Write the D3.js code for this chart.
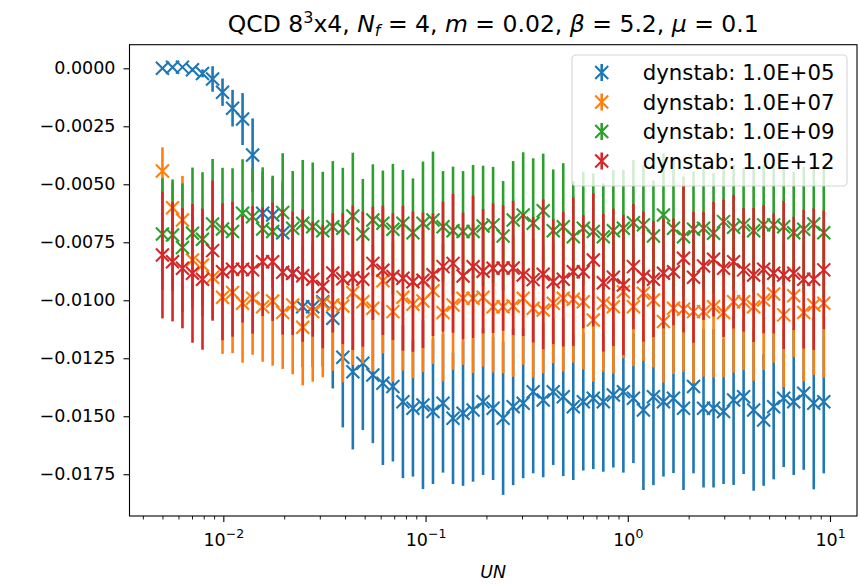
<!DOCTYPE html>
<html>
<head>
<meta charset="utf-8">
<script src="https://cdn.jsdelivr.net/npm/d3@7"></script>
<style>
  html, body { margin: 0; padding: 0; background: #fff; }
  svg { display: block; font-family: "DejaVu Sans", sans-serif; }
</style>
</head>
<body>
<svg id="chart" width="859" height="584"></svg>
<script>
// UN values (log-spaced sweep)
const unValues = [
  0.00500, 0.00561, 0.00628, 0.00704, 0.00789, 0.00885, 0.00991, 0.01111, 0.01245, 0.01396,
  0.01565, 0.01754, 0.01966, 0.02203, 0.02470, 0.02768, 0.03103, 0.03478, 0.03898, 0.04369,
  0.04897, 0.05489, 0.06152, 0.06896, 0.07729, 0.08663, 0.09711, 0.10884, 0.12199, 0.13674,
  0.15326, 0.17178, 0.19254, 0.21581, 0.24189, 0.27113, 0.30389, 0.34062, 0.38178, 0.42792,
  0.47964, 0.53760, 0.60257, 0.67539, 0.75702, 0.84850, 0.95120, 1.0662, 1.1950, 1.3394,
  1.5013, 1.6827, 1.8861, 2.1140, 2.3695, 2.6558, 2.9767, 3.3365, 3.7397, 4.1916,
  4.6981, 5.2659, 5.9023, 6.6155, 7.4150, 8.3110, 9.3153
];

// dynstab = 1.0E+05
const blueMean = [
  0.00000, 0.00004, 0.00005, -0.00006, -0.00022, -0.00046, -0.00103, -0.00172, -0.00219, -0.00374,
  -0.00625, -0.00632, -0.00709, -0.00884, -0.01028, -0.01028, -0.01006, -0.01078, -0.01246, -0.01308,
  -0.01272, -0.01322, -0.01358, -0.01372, -0.01437, -0.01466, -0.01451, -0.01480, -0.01444, -0.01509,
  -0.01487, -0.01473, -0.01437, -0.01466, -0.01509, -0.01459, -0.01444, -0.01394, -0.01430, -0.01394,
  -0.01416, -0.01459, -0.01437, -0.01422, -0.01437, -0.01408, -0.01394, -0.01422, -0.01473, -0.01416,
  -0.01437, -0.01422, -0.01466, -0.01372, -0.01466, -0.01466, -0.01480, -0.01430, -0.01416, -0.01473,
  -0.01516, -0.01459, -0.01422, -0.01437, -0.01401, -0.01444, -0.01437
];
const blueErr = [
  0.00002, 0.00003, 0.00004, 0.00008, 0.00017, 0.00055, 0.00059, 0.00079, 0.00112, 0.00158,
  0.00180, 0.00160, 0.00220, 0.00240, 0.00260, 0.00260, 0.00280, 0.00302, 0.00302, 0.00335,
  0.00287, 0.00294, 0.00352, 0.00323, 0.00330, 0.00294, 0.00363, 0.00312, 0.00299, 0.00283,
  0.00313, 0.00309, 0.00316, 0.00309, 0.00330, 0.00338, 0.00323, 0.00352, 0.00333, 0.00316,
  0.00342, 0.00316, 0.00297, 0.00306, 0.00302, 0.00313, 0.00349, 0.00280, 0.00345, 0.00381,
  0.00323, 0.00323, 0.00352, 0.00374, 0.00341, 0.00341, 0.00312, 0.00366, 0.00333, 0.00348,
  0.00284, 0.00313, 0.00297, 0.00316, 0.00330, 0.00371, 0.00309
];

// dynstab = 1.0E+07
const orangeMean = [
  -0.00443, -0.00601, -0.00654, -0.00826, -0.00848, -0.00901, -0.00987, -0.00967, -0.01013, -0.00991,
  -0.01028, -0.01003, -0.01053, -0.01020, -0.01116, -0.01049, -0.01013, -0.01020, -0.01025, -0.00967,
  -0.01006, -0.01034, -0.00916, -0.01049, -0.00987, -0.01017, -0.01003, -0.00959, -0.01053, -0.01020,
  -0.00991, -0.00991, -0.00987, -0.01028, -0.01028, -0.01025, -0.00991, -0.01034, -0.01042, -0.01013,
  -0.00991, -0.00996, -0.01006, -0.01085, -0.01013, -0.01028, -0.00963, -0.01028, -0.00970, -0.00999,
  -0.01092, -0.01034, -0.01039, -0.01049, -0.01049, -0.01028, -0.01053, -0.01006, -0.01006, -0.01028,
  -0.00999, -0.00973, -0.01063, -0.00981, -0.01053, -0.01020, -0.01013
];
const orangeErr = [
  0.00102, 0.00110, 0.00190, 0.00210, 0.00220, 0.00180, 0.00244, 0.00261, 0.00256, 0.00244,
  0.00237, 0.00279, 0.00243, 0.00299, 0.00251, 0.00302, 0.00319, 0.00284, 0.00329, 0.00312,
  0.00266, 0.00273, 0.00313, 0.00302, 0.00316, 0.00319, 0.00307, 0.00316, 0.00297, 0.00280,
  0.00287, 0.00323, 0.00299, 0.00283, 0.00287, 0.00305, 0.00287, 0.00299, 0.00273, 0.00259,
  0.00316, 0.00273, 0.00292, 0.00266, 0.00295, 0.00287, 0.00287, 0.00256, 0.00292, 0.00290,
  0.00263, 0.00284, 0.00269, 0.00309, 0.00280, 0.00305, 0.00279, 0.00306, 0.00295, 0.00319,
  0.00302, 0.00296, 0.00312, 0.00264, 0.00297, 0.00302, 0.00320
];

// dynstab = 1.0E+09
const greenMean = [
  -0.00714, -0.00719, -0.00773, -0.00711, -0.00737, -0.00671, -0.00693, -0.00704, -0.00625, -0.00640,
  -0.00693, -0.00704, -0.00622, -0.00690, -0.00668, -0.00683, -0.00700, -0.00683, -0.00690, -0.00637,
  -0.00714, -0.00654, -0.00668, -0.00694, -0.00668, -0.00709, -0.00668, -0.00654, -0.00683, -0.00700,
  -0.00704, -0.00704, -0.00680, -0.00675, -0.00723, -0.00654, -0.00632, -0.00668, -0.00614, -0.00700,
  -0.00683, -0.00726, -0.00690, -0.00704, -0.00726, -0.00700, -0.00690, -0.00666, -0.00675, -0.00723,
  -0.00632, -0.00690, -0.00726, -0.00694, -0.00690, -0.00711, -0.00661, -0.00685, -0.00675, -0.00700,
  -0.00675, -0.00675, -0.00683, -0.00709, -0.00694, -0.00671, -0.00709
];
const greenErr = [
  0.00240, 0.00240, 0.00277, 0.00283, 0.00289, 0.00280, 0.00264, 0.00273, 0.00233, 0.00208,
  0.00266, 0.00241, 0.00256, 0.00247, 0.00273, 0.00277, 0.00254, 0.00283, 0.00261, 0.00273,
  0.00237, 0.00240, 0.00227, 0.00282, 0.00230, 0.00234, 0.00266, 0.00295, 0.00240, 0.00276,
  0.00261, 0.00287, 0.00260, 0.00250, 0.00237, 0.00254, 0.00270, 0.00280, 0.00246, 0.00264,
  0.00274, 0.00240, 0.00244, 0.00251, 0.00230, 0.00261, 0.00251, 0.00270, 0.00259, 0.00240,
  0.00266, 0.00300, 0.00259, 0.00249, 0.00266, 0.00259, 0.00237, 0.00269, 0.00244, 0.00269,
  0.00259, 0.00266, 0.00251, 0.00263, 0.00270, 0.00254, 0.00284
];

// dynstab = 1.0E+12
const redMean = [
  -0.00805, -0.00834, -0.00862, -0.00884, -0.00909, -0.00786, -0.00877, -0.00866, -0.00866, -0.00869,
  -0.00834, -0.00834, -0.00879, -0.00884, -0.00894, -0.00909, -0.00941, -0.00882, -0.00907, -0.00903,
  -0.00909, -0.00841, -0.00871, -0.00898, -0.00905, -0.00920, -0.00914, -0.00890, -0.00855, -0.00841,
  -0.00895, -0.00856, -0.00875, -0.00862, -0.00861, -0.00861, -0.00891, -0.00911, -0.00888, -0.00920,
  -0.00909, -0.00877, -0.00877, -0.00826, -0.00924, -0.00901, -0.00934, -0.00855, -0.00898, -0.00909,
  -0.00884, -0.00877, -0.00819, -0.00901, -0.00852, -0.00823, -0.00862, -0.00834, -0.00869, -0.00891,
  -0.00866, -0.00884, -0.00891, -0.00884, -0.00909, -0.00909, -0.00869
];
const redErr = [
  0.00273, 0.00257, 0.00259, 0.00299, 0.00304, 0.00302, 0.00295, 0.00291, 0.00230, 0.00275,
  0.00234, 0.00255, 0.00269, 0.00266, 0.00285, 0.00248, 0.00266, 0.00257, 0.00282, 0.00311,
  0.00291, 0.00244, 0.00279, 0.00273, 0.00312, 0.00302, 0.00292, 0.00264, 0.00280, 0.00299,
  0.00273, 0.00307, 0.00268, 0.00279, 0.00270, 0.00289, 0.00263, 0.00271, 0.00323, 0.00269,
  0.00290, 0.00320, 0.00244, 0.00287, 0.00297, 0.00296, 0.00302, 0.00270, 0.00280, 0.00250,
  0.00237, 0.00230, 0.00319, 0.00282, 0.00233, 0.00247, 0.00296, 0.00288, 0.00266, 0.00289,
  0.00276, 0.00259, 0.00319, 0.00244, 0.00299, 0.00305, 0.00256
];

const seriesLabels = ["dynstab: 1.0E+05", "dynstab: 1.0E+07", "dynstab: 1.0E+09", "dynstab: 1.0E+12"];
const seriesColors = ["#1f77b4", "#ff7f0e", "#2ca02c", "#d62728"];
const yTickValues = [0, -0.0025, -0.005, -0.0075, -0.01, -0.0125, -0.015, -0.0175];
const xMajorTicks = [0.01, 0.1, 1, 10];
const xMajorExponents = ["\u22122", "\u22121", "0", "1"];

const series = [
  { mean: blueMean, err: blueErr },
  { mean: orangeMean, err: orangeErr },
  { mean: greenMean, err: greenErr },
  { mean: redMean, err: redErr }
].map((s, i) => ({
  label: seriesLabels[i],
  color: seriesColors[i],
  points: unValues.map((u, k) => ({ x: u, y: s.mean[k], e: s.err[k] }))
}));

// ---- layout ----
const plot = { left: 129.5, right: 857, top: 44.7, bottom: 516 };
const svg = d3.select("#chart");

const x = d3.scaleLog().domain([0.003436, 13.6]).range([plot.left, plot.right]);
const y = d3.scaleLinear().domain([-0.01930, 0.001017]).range([plot.bottom, plot.top]);

const tickFont = 17.5;
const fmt = d3.format(".4f");
const minus = s => s.replace("-", "\u2212");

// ---- y axis ----
const yAxis = d3.axisLeft(y)
  .tickValues(yTickValues)
  .tickSize(6)
  .tickPadding(8)
  .tickFormat(d => minus(fmt(d)));
const gy = svg.append("g")
  .attr("transform", `translate(${plot.left},0)`)
  .call(yAxis);
gy.select(".domain").remove();
gy.selectAll(".tick line").attr("stroke", "#000").attr("stroke-width", 1.1);
gy.selectAll(".tick text")
  .attr("fill", "#000")
  .style("font-size", tickFont + "px")
  .style("font-family", "DejaVu Sans");

// ---- x axis: minor ticks ----
const minorTicks = [];
for (let p = -3; p <= 1; p++) {
  for (let m = 2; m <= 9; m++) {
    const v = m * Math.pow(10, p);
    if (v > x.domain()[0] && v < x.domain()[1]) minorTicks.push(v);
  }
}
const gxMinor = svg.append("g")
  .attr("transform", `translate(0,${plot.bottom})`)
  .call(d3.axisBottom(x).tickValues(minorTicks).tickSize(3.5).tickFormat(""));
gxMinor.select(".domain").remove();
gxMinor.selectAll(".tick line").attr("stroke", "#000").attr("stroke-width", 0.9);

// ---- x axis: major ticks ----
const gx = svg.append("g")
  .attr("transform", `translate(0,${plot.bottom})`)
  .call(d3.axisBottom(x).tickValues(xMajorTicks).tickSize(6).tickFormat(""));
gx.select(".domain").remove();
gx.selectAll(".tick line").attr("stroke", "#000").attr("stroke-width", 1.1);
gx.selectAll(".tick").each(function (d, i) {
  const t = d3.select(this).append("text")
    .attr("y", 30)
    .attr("text-anchor", "middle")
    .attr("fill", "#000")
    .style("font-size", tickFont + "px")
    .style("font-family", "DejaVu Sans");
  t.append("tspan").text("10");
  t.append("tspan")
    .attr("dy", -8)
    .style("font-size", "12.5px")
    .text(xMajorExponents[i]);
});

// ---- error bars and markers ----
const markerHalf = 6.5;
series.forEach(s => {
  const g = svg.append("g");
  g.selectAll("line.err")
    .data(s.points)
    .join("line")
    .attr("class", "err")
    .attr("x1", d => x(d.x))
    .attr("x2", d => x(d.x))
    .attr("y1", d => y(d.y + d.e))
    .attr("y2", d => y(d.y - d.e))
    .attr("stroke", s.color)
    .attr("stroke-width", 2.6);
  g.selectAll("path.mk")
    .data(s.points)
    .join("path")
    .attr("class", "mk")
    .attr("d", d => {
      const cx = x(d.x), cy = y(d.y), h = markerHalf;
      return `M${cx - h},${cy - h}L${cx + h},${cy + h}M${cx - h},${cy + h}L${cx + h},${cy - h}`;
    })
    .attr("stroke", s.color)
    .attr("stroke-width", 2.1)
    .attr("fill", "none");
});

// ---- frame ----
svg.append("rect")
  .attr("x", plot.left).attr("y", plot.top)
  .attr("width", plot.right - plot.left)
  .attr("height", plot.bottom - plot.top)
  .attr("fill", "none")
  .attr("stroke", "#000")
  .attr("stroke-width", 1.1);

// ---- legend ----
const legend = svg.append("g").attr("transform", "translate(572,55)");
legend.append("rect")
  .attr("width", 275).attr("height", 131)
  .attr("rx", 4).attr("ry", 4)
  .attr("fill", "#fff").attr("fill-opacity", 0.8)
  .attr("stroke", "#cccccc").attr("stroke-opacity", 0.8)
  .attr("stroke-width", 1.1);
const rowY = d3.scalePoint().domain(d3.range(series.length)).range([17.5, 106]);
series.forEach((s, i) => {
  const r = legend.append("g").attr("transform", `translate(29.7,${rowY(i)})`);
  r.append("line").attr("x1", 0).attr("x2", 0).attr("y1", -8.5).attr("y2", 8.5)
    .attr("stroke", s.color).attr("stroke-width", 2.6);
  r.append("path")
    .attr("d", `M${-markerHalf},${-markerHalf}L${markerHalf},${markerHalf}M${-markerHalf},${markerHalf}L${markerHalf},${-markerHalf}`)
    .attr("stroke", s.color).attr("stroke-width", 2.1).attr("fill", "none");
  r.append("text")
    .attr("x", 41)
    .attr("dy", "0.36em")
    .attr("fill", "#000")
    .style("font-size", "21.3px")
    .text(s.label);
});

// ---- title ----
const title = svg.append("text")
  .attr("x", (plot.left + plot.right) / 2)
  .attr("y", 32)
  .attr("text-anchor", "middle")
  .attr("fill", "#000")
  .style("font-size", "23.5px");
title.append("tspan").text("QCD 8");
title.append("tspan").attr("dy", -9).style("font-size", "16px").text("3");
title.append("tspan").attr("dy", 9).text("x4, ");
title.append("tspan").style("font-style", "italic").text("N");
title.append("tspan").attr("dy", 4).style("font-size", "16px").style("font-style", "italic").text("f");
title.append("tspan").attr("dy", -4).text(" = 4, ");
title.append("tspan").style("font-style", "italic").text("m");
title.append("tspan").text(" = 0.02, ");
title.append("tspan").style("font-style", "italic").text("\u03b2");
title.append("tspan").text(" = 5.2, ");
title.append("tspan").style("font-style", "italic").text("\u03bc");
title.append("tspan").text(" = 0.1");

// ---- x label ----
svg.append("text")
  .attr("x", (plot.left + plot.right) / 2)
  .attr("y", 578)
  .attr("text-anchor", "middle")
  .attr("fill", "#000")
  .style("font-size", tickFont + "px")
  .style("font-style", "italic")
  .text("UN");
</script>
</body>
</html>
